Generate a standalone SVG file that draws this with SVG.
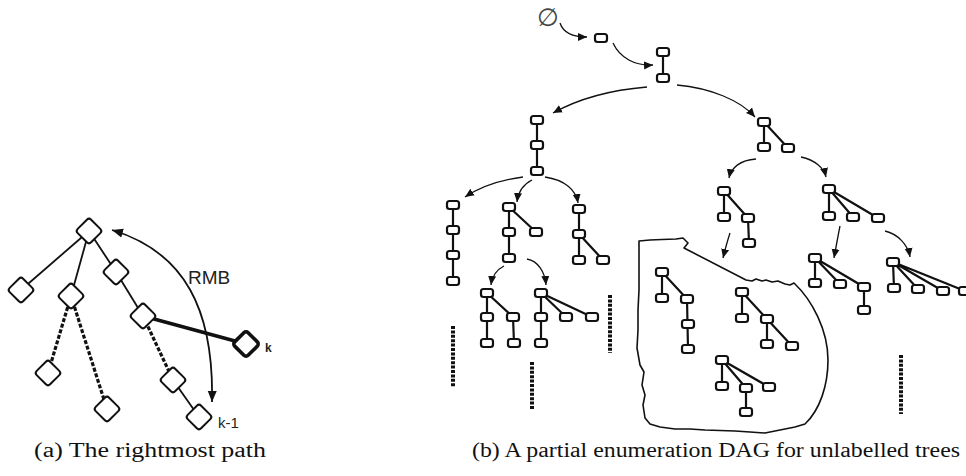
<svg xmlns="http://www.w3.org/2000/svg" width="966" height="476" viewBox="0 0 966 476">
<style>
.d{fill:#fff;stroke:#111;stroke-width:2}
.dk{fill:#fff;stroke:#111;stroke-width:3.6}
.e{stroke:#111;stroke-width:1.8;fill:none}
.ek{stroke:#111;stroke-width:3.6;fill:none}
.ed{stroke:#111;stroke-width:3.2;stroke-dasharray:4 1.8;fill:none}
.n{fill:#fff;stroke:#111;stroke-width:2.2}
.t{stroke:#111;stroke-width:2.2;fill:none}
.c{stroke:#111;stroke-width:1.3;fill:none;marker-end:url(#ah)}
.dot{stroke:#111;stroke-width:4;stroke-dasharray:3 1.4;fill:none}
.lbl{font-family:"Liberation Sans",Arial,sans-serif;fill:#222}
.cap{font-family:"Liberation Serif","Times New Roman",serif;font-size:20px;fill:#111}
</style>
<defs>
<marker id="ah" markerUnits="userSpaceOnUse" markerWidth="10" markerHeight="10" viewBox="0 0 10 10" refX="9" refY="5" orient="auto">
<path d="M0,1 L9,5 L0,9 Z" fill="#111"/>
</marker>
<marker id="ahb" markerUnits="userSpaceOnUse" markerWidth="12" markerHeight="12" viewBox="0 0 12 12" refX="11" refY="6" orient="auto-start-reverse">
<path d="M0,1.5 L11,6 L0,10.5 Z" fill="#111"/>
</marker>
<symbol id="dm" overflow="visible"><rect x="-9.5" y="-9.5" width="19" height="19" rx="3" transform="rotate(45)"/></symbol>
</defs>

<!-- (a) left diagram -->
<g id="a-connectors">
<line class="e" x1="89" y1="231" x2="21" y2="290"/>
<line class="e" x1="89" y1="231" x2="71" y2="296"/>
<line class="e" x1="89" y1="231" x2="116" y2="272"/>
<line class="e" x1="116" y1="272" x2="143" y2="316"/>
<line class="ek" x1="143" y1="316" x2="246" y2="344"/>
<line class="ed" x1="71" y1="296" x2="48" y2="373"/>
<line class="ed" x1="71" y1="296" x2="107" y2="409"/>
<line class="ed" x1="143" y1="316" x2="173" y2="380"/>
<line class="e" x1="173" y1="380" x2="199" y2="417"/>
<path class="e" d="M112 230 C185 252,214 310,212 402" marker-start="url(#ahb)" marker-end="url(#ahb)"/>
</g>
<g id="a-root" class="d"><use href="#dm" x="89" y="231"/></g>
<g id="a-left" class="d"><use href="#dm" x="21" y="290"/></g>
<g id="a-mid" class="d"><use href="#dm" x="71" y="296"/></g>
<g id="a-right" class="d"><use href="#dm" x="116" y="272"/></g>
<g id="a-rr" class="d"><use href="#dm" x="143" y="316"/></g>
<g id="a-k" class="dk"><use href="#dm" x="246" y="344"/></g>
<g id="a-ml" class="d"><use href="#dm" x="48" y="373"/></g>
<g id="a-mr" class="d"><use href="#dm" x="107" y="409"/></g>
<g id="a-rrd" class="d"><use href="#dm" x="173" y="380"/></g>
<g id="a-k1" class="d"><use href="#dm" x="199" y="417"/></g>
<text class="lbl" x="188" y="284" font-size="19">RMB</text>
<text class="lbl" x="265" y="352" font-size="12" font-weight="bold">k</text>
<text class="lbl" x="218" y="428" font-size="15">k-1</text>

<!-- (b) right diagram -->
<g id="b-connectors">
<path class="c" d="M560 23 C563 32,572 37,587 37"/>
<path class="c" d="M613 43 C620 58,635 66,653 65"/>
<path class="c" d="M647 87 C610 90,580 98,553 113"/>
<path class="c" d="M677 85 C710 88,740 100,755 117"/>
<path class="c" d="M523 177 C500 180,480 187,465 197"/>
<path class="c" d="M532 180 C522 185,518 193,517 202"/>
<path class="c" d="M545 177 C565 180,576 190,578 203"/>
<path class="c" d="M504 266 C496 270,492 277,491 285"/>
<path class="c" d="M527 259 C538 261,545 272,546 285"/>
<path class="c" d="M756 159 C740 160,731 168,729 178"/>
<path class="c" d="M801 157 C815 160,824 168,826 177"/>
<path class="c" d="M730 233 C727 242,725 250,723 258"/>
<path class="c" d="M840 226 C838 236,836 247,834 258"/>
<path class="c" d="M885 231 C898 234,908 245,910 257"/>
</g>

<text id="t-empty" x="548" y="26" text-anchor="middle" font-family="DejaVu Sans,sans-serif" font-size="25" fill="#444">∅</text>

<g id="t1"><rect class="n" x="595" y="34" width="12" height="8" rx="2.5"/></g>
<g id="t2">
<line class="t" x1="663" y1="52" x2="663" y2="78"/>
<rect class="n" x="657" y="48" width="12" height="8" rx="2.5"/>
<rect class="n" x="657" y="74" width="12" height="8" rx="2.5"/>
</g>
<g id="t3">
<line class="t" x1="537" y1="120" x2="537" y2="171"/>
<rect class="n" x="531" y="116" width="12" height="8" rx="2.5"/>
<rect class="n" x="531" y="141" width="12" height="8" rx="2.5"/>
<rect class="n" x="531" y="167" width="12" height="8" rx="2.5"/>
</g>
<g id="t4">
<line class="t" x1="453" y1="205" x2="453" y2="281"/>
<rect class="n" x="447" y="201" width="12" height="8" rx="2.5"/>
<rect class="n" x="447" y="226" width="12" height="8" rx="2.5"/>
<rect class="n" x="447" y="251" width="12" height="8" rx="2.5"/>
<rect class="n" x="447" y="277" width="12" height="8" rx="2.5"/>
</g>
<g id="t5">
<path class="t" d="M509 207 V258 M509 207 L536 232"/>
<rect class="n" x="503" y="203" width="12" height="8" rx="2.5"/>
<rect class="n" x="503" y="228" width="12" height="8" rx="2.5"/>
<rect class="n" x="530" y="228" width="12" height="8" rx="2.5"/>
<rect class="n" x="503" y="254" width="12" height="8" rx="2.5"/>
</g>
<g id="t6">
<path class="t" d="M579 209 V260 M579 234 L603 260"/>
<rect class="n" x="573" y="205" width="12" height="8" rx="2.5"/>
<rect class="n" x="573" y="230" width="12" height="8" rx="2.5"/>
<rect class="n" x="573" y="256" width="12" height="8" rx="2.5"/>
<rect class="n" x="597" y="256" width="12" height="8" rx="2.5"/>
</g>
<g id="t7">
<path class="t" d="M487 293 V343 M487 293 L513 317 L514 343"/>
<rect class="n" x="481" y="289" width="12" height="8" rx="2.5"/>
<rect class="n" x="481" y="313" width="12" height="8" rx="2.5"/>
<rect class="n" x="507" y="313" width="12" height="8" rx="2.5"/>
<rect class="n" x="481" y="339" width="12" height="8" rx="2.5"/>
<rect class="n" x="508" y="339" width="12" height="8" rx="2.5"/>
</g>
<g id="t8">
<path class="t" d="M541 293 V343 M541 293 L566 317 M541 293 L592 317"/>
<rect class="n" x="535" y="289" width="12" height="8" rx="2.5"/>
<rect class="n" x="535" y="313" width="12" height="8" rx="2.5"/>
<rect class="n" x="560" y="313" width="12" height="8" rx="2.5"/>
<rect class="n" x="586" y="313" width="12" height="8" rx="2.5"/>
<rect class="n" x="535" y="339" width="12" height="8" rx="2.5"/>
</g>
<g id="r1">
<path class="t" d="M764 122 V147 M764 122 L788 148"/>
<rect class="n" x="758" y="118" width="12" height="8" rx="2.5"/>
<rect class="n" x="758" y="143" width="12" height="8" rx="2.5"/>
<rect class="n" x="782" y="144" width="12" height="8" rx="2.5"/>
</g>
<g id="r2">
<path class="t" d="M724 191 V217 M724 191 L748 218 L749 243"/>
<rect class="n" x="718" y="187" width="12" height="8" rx="2.5"/>
<rect class="n" x="718" y="213" width="12" height="8" rx="2.5"/>
<rect class="n" x="742" y="214" width="12" height="8" rx="2.5"/>
<rect class="n" x="743" y="239" width="12" height="8" rx="2.5"/>
</g>
<g id="r3">
<path class="t" d="M829 189 V216 M829 189 L853 217 M829 189 L878 218"/>
<rect class="n" x="823" y="185" width="12" height="8" rx="2.5"/>
<rect class="n" x="823" y="212" width="12" height="8" rx="2.5"/>
<rect class="n" x="847" y="213" width="12" height="8" rx="2.5"/>
<rect class="n" x="872" y="214" width="12" height="8" rx="2.5"/>
</g>
<g id="r4">
<path class="t" d="M815 258 V283 M815 258 L840 284 M815 258 L864 287 V310"/>
<rect class="n" x="809" y="254" width="12" height="8" rx="2.5"/>
<rect class="n" x="809" y="279" width="12" height="8" rx="2.5"/>
<rect class="n" x="834" y="280" width="12" height="8" rx="2.5"/>
<rect class="n" x="858" y="283" width="12" height="8" rx="2.5"/>
<rect class="n" x="858" y="306" width="12" height="8" rx="2.5"/>
</g>
<g id="r5">
<path class="t" d="M893 262 L894 288 M893 262 L918 289 M893 262 L943 291 M893 262 L965 291"/>
<rect class="n" x="887" y="258" width="12" height="8" rx="2.5"/>
<rect class="n" x="888" y="284" width="12" height="8" rx="2.5"/>
<rect class="n" x="912" y="285" width="12" height="8" rx="2.5"/>
<rect class="n" x="937" y="287" width="12" height="8" rx="2.5"/>
<rect class="n" x="959" y="287" width="12" height="8" rx="2.5"/>
</g>

<path id="blob" fill="none" stroke="#111" stroke-width="1.6" stroke-linejoin="round" d="M639 241 L650 240 L662 239.5 L676 239 L683 238 L688 243 L684 248 L746 280 L752 281 L756 279 L762 281 L766 280 L772 282 L778 281 L785 284 L790 285 L794 283 C812 300,828 330,828 360 C828 385,820 410,805 424 L795 427 L780 430 L765 433 L750 432 L735 431 L720 430.5 L705 430 L690 429 L675 429 L660 427 L650 424 L645 418 L643 405 L645 395 L642 385 L644 372 L640 365 L637 348 L638 330 L638 310 L639 290 L639 265 Z"/>

<g id="b1">
<path class="t" d="M662 272 V298 M662 272 L687 299 L688 349"/>
<rect class="n" x="656" y="268" width="12" height="8" rx="2.5"/>
<rect class="n" x="656" y="294" width="12" height="8" rx="2.5"/>
<rect class="n" x="681" y="295" width="12" height="8" rx="2.5"/>
<rect class="n" x="682" y="320" width="12" height="8" rx="2.5"/>
<rect class="n" x="682" y="345" width="12" height="8" rx="2.5"/>
</g>
<g id="b2">
<path class="t" d="M742 292 V318 M742 292 L767 319 V344 M767 319 L792 346"/>
<rect class="n" x="736" y="288" width="12" height="8" rx="2.5"/>
<rect class="n" x="736" y="314" width="12" height="8" rx="2.5"/>
<rect class="n" x="761" y="315" width="12" height="8" rx="2.5"/>
<rect class="n" x="761" y="340" width="12" height="8" rx="2.5"/>
<rect class="n" x="786" y="342" width="12" height="8" rx="2.5"/>
</g>
<g id="b3">
<path class="t" d="M722 360 V386 M722 360 L746 388 V412 M722 360 L769 387"/>
<rect class="n" x="716" y="356" width="12" height="8" rx="2.5"/>
<rect class="n" x="716" y="382" width="12" height="8" rx="2.5"/>
<rect class="n" x="740" y="384" width="12" height="8" rx="2.5"/>
<rect class="n" x="763" y="383" width="12" height="8" rx="2.5"/>
<rect class="n" x="740" y="408" width="12" height="8" rx="2.5"/>
</g>

<g id="ellipses">
<line class="dot" x1="453" y1="326" x2="453" y2="387"/>
<line class="dot" x1="532" y1="362" x2="532" y2="410"/>
<line class="dot" x1="610" y1="295" x2="610" y2="353"/>
<line class="dot" x1="901" y1="355" x2="901" y2="414"/>
</g>

<text class="cap" x="34" y="457" textLength="232" lengthAdjust="spacingAndGlyphs">(a) The rightmost path</text>
<text class="cap" x="472" y="457" textLength="488" lengthAdjust="spacingAndGlyphs">(b) A partial enumeration DAG for unlabelled trees</text>
</svg>
